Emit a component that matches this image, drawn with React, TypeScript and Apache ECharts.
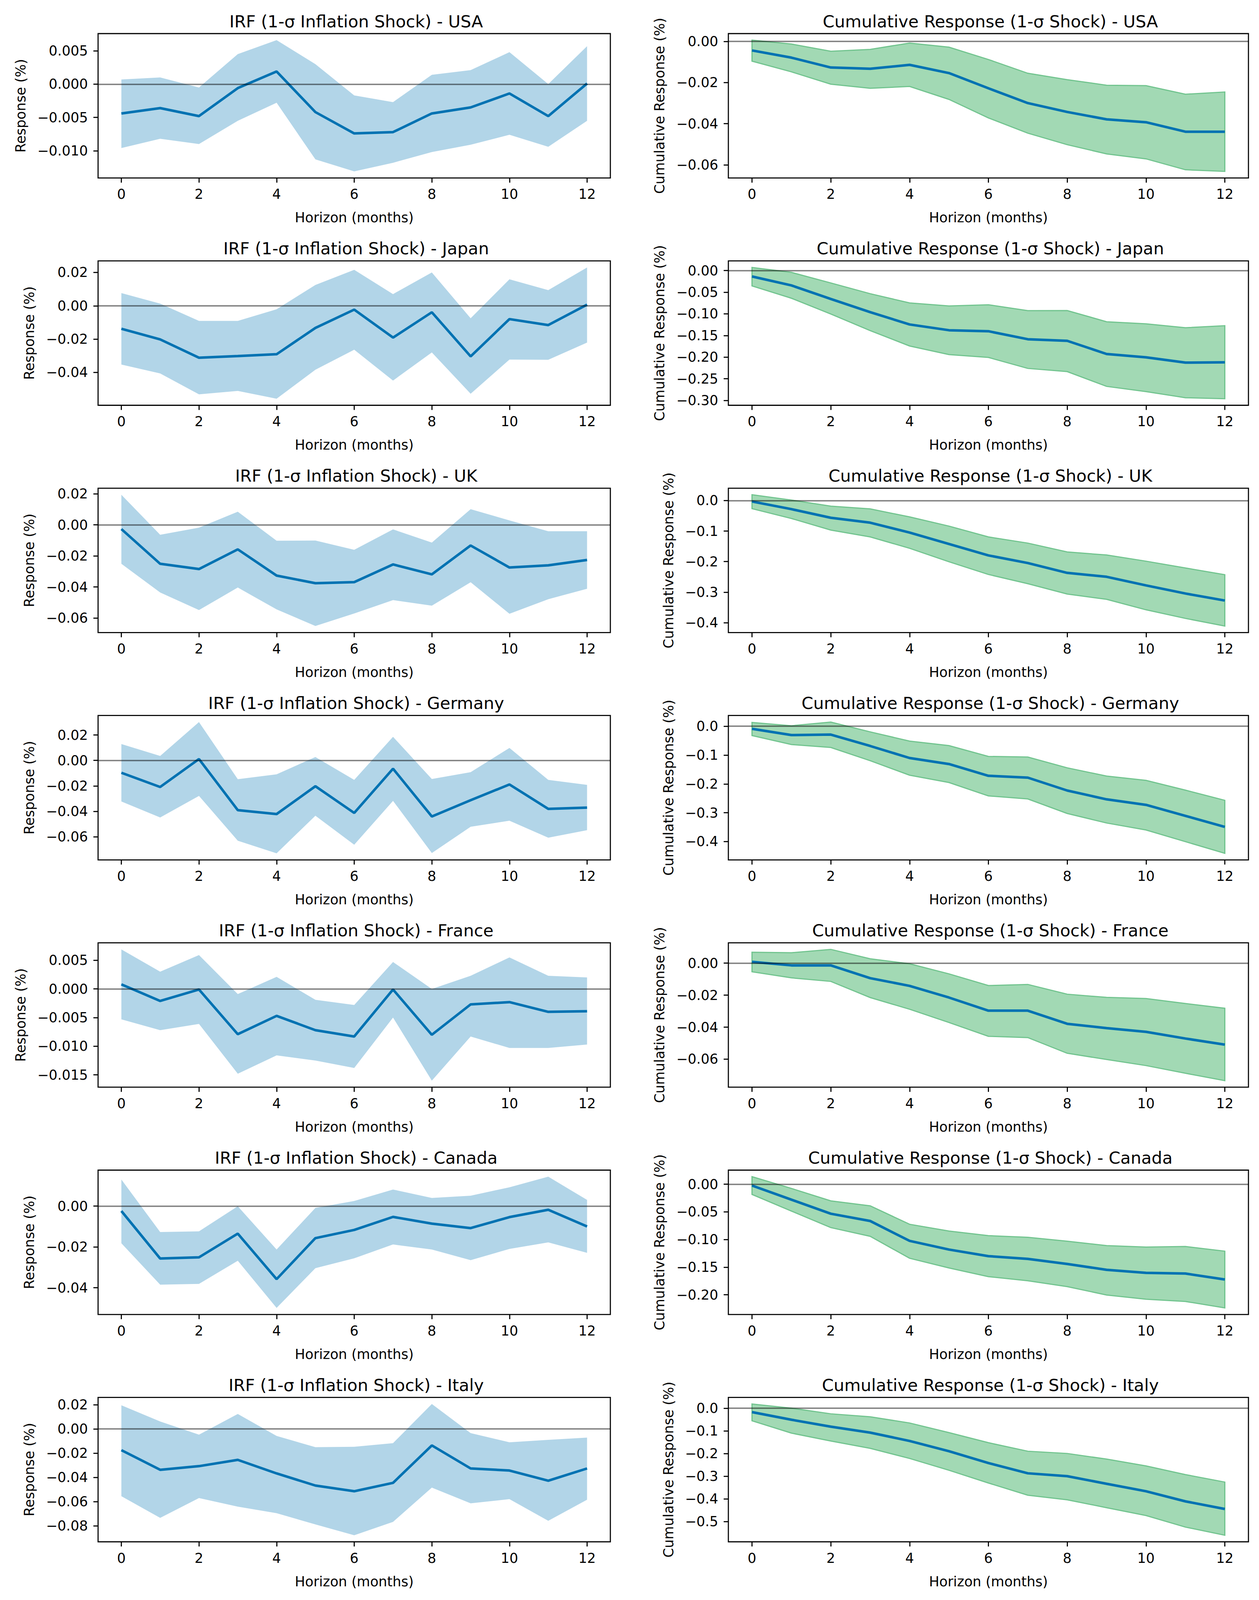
import React, { useEffect, useRef } from 'react';
import * as echarts from 'echarts';

// horizons and ticks
const horizons = [0, 1, 2, 3, 4, 5, 6, 7, 8, 9, 10, 11, 12];
const xTicks = [0, 2, 4, 6, 8, 10, 12];
const countries = ['USA', 'Japan', 'UK', 'Germany', 'France', 'Canada', 'Italy'];

// --- IRF (1-sigma inflation shock) ---
const usaIrf = [-0.0044, -0.0036, -0.0048, -0.0006, 0.0019, -0.0042, -0.0074, -0.0072, -0.0044, -0.0035, -0.0014, -0.0048, 0.0001];
const usaIrfLo = [-0.0096, -0.0082, -0.009, -0.0055, -0.0028, -0.0113, -0.0131, -0.0118, -0.0102, -0.0091, -0.0076, -0.0094, -0.0055];
const usaIrfHi = [0.0007, 0.001, -0.0005, 0.0045, 0.0066, 0.003, -0.0017, -0.0027, 0.0014, 0.0021, 0.0048, 0.0, 0.0057];

const japanIrf = [-0.0138, -0.0202, -0.0312, -0.0302, -0.0291, -0.0133, -0.0023, -0.0191, -0.0039, -0.0304, -0.008, -0.0116, 0.0007];
const japanIrfLo = [-0.0353, -0.0406, -0.0532, -0.0511, -0.0558, -0.0384, -0.0264, -0.0449, -0.028, -0.0528, -0.0323, -0.0324, -0.0221];
const japanIrfHi = [0.0076, 0.0013, -0.0091, -0.0091, -0.0021, 0.0125, 0.0216, 0.007, 0.02, -0.0075, 0.0159, 0.0094, 0.023];

const ukIrf = [-0.0027, -0.0251, -0.0285, -0.0158, -0.0327, -0.0376, -0.0369, -0.0255, -0.0319, -0.0133, -0.0275, -0.0261, -0.0226];
const ukIrfLo = [-0.0251, -0.0436, -0.0549, -0.0404, -0.0545, -0.0652, -0.0571, -0.0485, -0.0521, -0.037, -0.0573, -0.0479, -0.0412];
const ukIrfHi = [0.0194, -0.0064, -0.0018, 0.0085, -0.0102, -0.0101, -0.0161, -0.0029, -0.0114, 0.0101, 0.0029, -0.0041, -0.0041];

const germanyIrf = [-0.0097, -0.0209, 0.0011, -0.0391, -0.0422, -0.0203, -0.0413, -0.0065, -0.0441, -0.0313, -0.0189, -0.0381, -0.0371];
const germanyIrfLo = [-0.0323, -0.0449, -0.0279, -0.0632, -0.0731, -0.0435, -0.0663, -0.0318, -0.0729, -0.0522, -0.0474, -0.0608, -0.0549];
const germanyIrfHi = [0.0129, 0.0035, 0.0302, -0.0148, -0.0109, 0.0027, -0.0153, 0.0186, -0.0146, -0.0092, 0.0098, -0.0153, -0.0192];

const franceIrf = [0.0008, -0.0021, -0.0001, -0.0079, -0.0047, -0.0072, -0.0083, -0.0001, -0.008, -0.0027, -0.0023, -0.004, -0.0039];
const franceIrfLo = [-0.0053, -0.0072, -0.0061, -0.0148, -0.0116, -0.0125, -0.0138, -0.005, -0.016, -0.0083, -0.0103, -0.0103, -0.0097];
const franceIrfHi = [0.0069, 0.003, 0.0059, -0.0009, 0.0021, -0.0019, -0.0028, 0.0047, 0.0, 0.0023, 0.0055, 0.0023, 0.002];

const canadaIrf = [-0.0024, -0.0257, -0.0251, -0.0135, -0.0358, -0.0157, -0.0117, -0.0053, -0.0086, -0.0108, -0.0054, -0.0018, -0.01];
const canadaIrfLo = [-0.0182, -0.0385, -0.0381, -0.0268, -0.0499, -0.0304, -0.0256, -0.0188, -0.0213, -0.0265, -0.021, -0.0178, -0.0229];
const canadaIrfHi = [0.013, -0.0127, -0.0124, -0.0001, -0.0213, -0.0009, 0.0025, 0.0081, 0.004, 0.0051, 0.0092, 0.0144, 0.003];

const italyIrf = [-0.0175, -0.0337, -0.0307, -0.0255, -0.0367, -0.0467, -0.0514, -0.0445, -0.0136, -0.0326, -0.0343, -0.0427, -0.0326];
const italyIrfLo = [-0.0555, -0.0734, -0.057, -0.0641, -0.0695, -0.0788, -0.0877, -0.0767, -0.0484, -0.0614, -0.0579, -0.0758, -0.0584];
const italyIrfHi = [0.0195, 0.0062, -0.0047, 0.0124, -0.0058, -0.015, -0.0147, -0.0117, 0.0206, -0.0034, -0.011, -0.009, -0.0071];

// --- cumulative response ---
const usaCum = [-0.0044, -0.0079, -0.0127, -0.0133, -0.0114, -0.0154, -0.0228, -0.03, -0.0343, -0.0379, -0.0393, -0.0439, -0.0439];
const usaCumLo = [-0.0096, -0.0148, -0.0208, -0.0228, -0.0219, -0.0282, -0.0372, -0.0446, -0.0502, -0.0547, -0.0571, -0.0624, -0.0632];
const usaCumHi = [0.0006, -0.0013, -0.0048, -0.0039, -0.0008, -0.0028, -0.0088, -0.0155, -0.0186, -0.0213, -0.0215, -0.0257, -0.0246];

const japanCum = [-0.0137, -0.0344, -0.0657, -0.0961, -0.1246, -0.1379, -0.1402, -0.1587, -0.1624, -0.1928, -0.2005, -0.2127, -0.2119];
const japanCumLo = [-0.0356, -0.064, -0.1004, -0.1388, -0.1743, -0.1942, -0.2008, -0.2261, -0.2335, -0.2676, -0.2796, -0.2938, -0.2961];
const japanCumHi = [0.0071, -0.0043, -0.0287, -0.0535, -0.0748, -0.0819, -0.0791, -0.0927, -0.0924, -0.1183, -0.1231, -0.1322, -0.1274];

const ukCum = [-0.0032, -0.0282, -0.0564, -0.0725, -0.1048, -0.1422, -0.1797, -0.2046, -0.2369, -0.2497, -0.2779, -0.3045, -0.3275];
const ukCumLo = [-0.0266, -0.0588, -0.0967, -0.1192, -0.1563, -0.2006, -0.2421, -0.2724, -0.3062, -0.3235, -0.3578, -0.386, -0.4109];
const ukCumHi = [0.0189, 0.0016, -0.0185, -0.0274, -0.0536, -0.0838, -0.1192, -0.1394, -0.1684, -0.1784, -0.1986, -0.2208, -0.2429];

const germanyCum = [-0.0089, -0.0306, -0.0289, -0.0685, -0.1102, -0.1311, -0.1719, -0.1783, -0.223, -0.2536, -0.2728, -0.311, -0.3494];
const germanyCumLo = [-0.0323, -0.0634, -0.0736, -0.1196, -0.1698, -0.1953, -0.2417, -0.2523, -0.3026, -0.3357, -0.36, -0.4004, -0.4409];
const germanyCumHi = [0.0132, 0.0017, 0.0145, -0.0196, -0.0515, -0.0672, -0.1047, -0.1068, -0.1443, -0.1728, -0.1877, -0.2217, -0.257];

const franceCum = [0.0008, -0.0014, -0.0014, -0.0094, -0.0142, -0.0215, -0.0297, -0.0297, -0.0379, -0.0406, -0.0429, -0.0471, -0.0509];
const franceCumLo = [-0.0054, -0.0092, -0.0114, -0.0215, -0.0288, -0.0371, -0.0457, -0.0465, -0.0563, -0.0602, -0.064, -0.0688, -0.0734];
const franceCumHi = [0.0068, 0.0065, 0.0086, 0.0027, -0.0004, -0.0067, -0.014, -0.0133, -0.0194, -0.0214, -0.0221, -0.0252, -0.0282];

const canadaCum = [-0.0023, -0.0279, -0.0533, -0.0665, -0.1025, -0.1182, -0.1301, -0.1351, -0.1443, -0.1548, -0.1604, -0.1616, -0.1724];
const canadaCumLo = [-0.0184, -0.0485, -0.0784, -0.0942, -0.1339, -0.1515, -0.1672, -0.1746, -0.1852, -0.2004, -0.2081, -0.2121, -0.2238];
const canadaCumHi = [0.0137, -0.0076, -0.0301, -0.0391, -0.0724, -0.0847, -0.093, -0.096, -0.1031, -0.111, -0.1137, -0.1126, -0.1211];

const italyCum = [-0.0174, -0.051, -0.0817, -0.1078, -0.1448, -0.19, -0.2422, -0.2874, -0.3001, -0.3337, -0.3667, -0.4113, -0.445];
const italyCumLo = [-0.0556, -0.1101, -0.1448, -0.1773, -0.2219, -0.274, -0.3302, -0.3841, -0.4044, -0.4392, -0.4739, -0.5249, -0.5608];
const italyCumHi = [0.0185, 0.0, -0.0249, -0.0382, -0.0654, -0.1078, -0.1524, -0.19, -0.1999, -0.2248, -0.2549, -0.2932, -0.3262];

// y tick values (and decimals shown)
const usaIrfTicks = [-0.01, -0.005, 0, 0.005];
const japanIrfTicks = [-0.04, -0.02, 0, 0.02];
const ukIrfTicks = [-0.06, -0.04, -0.02, 0, 0.02];
const germanyIrfTicks = [-0.06, -0.04, -0.02, 0, 0.02];
const franceIrfTicks = [-0.015, -0.01, -0.005, 0, 0.005];
const canadaIrfTicks = [-0.04, -0.02, 0];
const italyIrfTicks = [-0.08, -0.06, -0.04, -0.02, 0, 0.02];
const irfDecimals = [3, 2, 2, 2, 3, 2, 2];

const usaCumTicks = [-0.06, -0.04, -0.02, 0];
const japanCumTicks = [-0.3, -0.25, -0.2, -0.15, -0.1, -0.05, 0];
const ukCumTicks = [-0.4, -0.3, -0.2, -0.1, 0];
const germanyCumTicks = [-0.4, -0.3, -0.2, -0.1, 0];
const franceCumTicks = [-0.06, -0.04, -0.02, 0];
const canadaCumTicks = [-0.2, -0.15, -0.1, -0.05, 0];
const italyCumTicks = [-0.5, -0.4, -0.3, -0.2, -0.1, 0];
const cumDecimals = [2, 2, 1, 1, 2, 2, 1];

const irfData = [
  [usaIrf, usaIrfLo, usaIrfHi, usaIrfTicks],
  [japanIrf, japanIrfLo, japanIrfHi, japanIrfTicks],
  [ukIrf, ukIrfLo, ukIrfHi, ukIrfTicks],
  [germanyIrf, germanyIrfLo, germanyIrfHi, germanyIrfTicks],
  [franceIrf, franceIrfLo, franceIrfHi, franceIrfTicks],
  [canadaIrf, canadaIrfLo, canadaIrfHi, canadaIrfTicks],
  [italyIrf, italyIrfLo, italyIrfHi, italyIrfTicks],
];
const cumData = [
  [usaCum, usaCumLo, usaCumHi, usaCumTicks],
  [japanCum, japanCumLo, japanCumHi, japanCumTicks],
  [ukCum, ukCumLo, ukCumHi, ukCumTicks],
  [germanyCum, germanyCumLo, germanyCumHi, germanyCumTicks],
  [franceCum, franceCumLo, franceCumHi, franceCumTicks],
  [canadaCum, canadaCumLo, canadaCumHi, canadaCumTicks],
  [italyCum, italyCumLo, italyCumHi, italyCumTicks],
];

const FONT = 'DejaVu Sans';
const W = 3222;
const H = 5604;
const TOP0 = 86; // first axes top (room for the title)
const ROW_GAP = 212.3; // axes bottom -> next axes top
const BOTTOM = 149; // below the last axes
const COLS = [
  { left: 251, width: 1311 },
  { left: 1864, width: 1331 },
];

// the photographed window can be shorter than the figure: fit the rows into it
const pageHeight = () => {
  const ih = typeof window !== 'undefined' ? window.innerHeight : H;
  return ih >= 3000 && ih < H ? ih : H;
};

const fmt = (v: number, dec: number) => v.toFixed(dec).replace('-', '\u2212');

let measureCtx: CanvasRenderingContext2D | null = null;
const textWidth = (s: string) => {
  if (!measureCtx) measureCtx = document.createElement('canvas').getContext('2d');
  if (!measureCtx) return s.length * 22;
  measureCtx.font = `35px "${FONT}"`;
  return measureCtx.measureText(s).width;
};

function buildOption(height: number) {
  const grid: any[] = [];
  const xAxis: any[] = [];
  const yAxis: any[] = [];
  const series: any[] = [];
  const title: any[] = [];

  const nRows = countries.length;
  const plotH = (height - TOP0 - BOTTOM - ROW_GAP * (nRows - 1)) / nRows;
  const rowStep = plotH + ROW_GAP;

  const panels: any[] = [];
  countries.forEach((c, r) => {
    panels.push({ r, col: 0, name: `IRF (1-σ Inflation Shock) - ${c}`, ylabel: 'Response (%)', d: irfData[r], dec: irfDecimals[r], kind: 'irf' });
    panels.push({ r, col: 1, name: `Cumulative Response (1-σ Shock) - ${c}`, ylabel: 'Cumulative Response (%)', d: cumData[r], dec: cumDecimals[r], kind: 'cum' });
  });

  panels.forEach((p, k) => {
    const [mean, lo, hi, ticks] = p.d as number[][];
    const col = COLS[p.col];
    const top = TOP0 + rowStep * p.r;

    const dmin = Math.min(...lo);
    const dmax = Math.max(...hi);
    const pad = (dmax - dmin) * 0.05;

    const labelW = Math.max(...ticks.map((t) => textWidth(fmt(t, p.dec))));

    grid.push({
      left: col.left,
      top,
      width: col.width,
      height: plotH,
      show: true,
      borderColor: '#000',
      borderWidth: 2.8,
      backgroundColor: 'transparent',
      outerBoundsMode: 'none',
    });

    title.push({
      text: p.name,
      left: col.left + col.width / 2,
      top: top - 58,
      textAlign: 'center',
      textStyle: { fontFamily: FONT, fontSize: 43, fontWeight: 'normal', color: '#000', lineHeight: 43 },
    });

    xAxis.push({
      type: 'value',
      gridIndex: k,
      min: -0.6,
      max: 12.6,
      axisLine: { show: false, onZero: false },
      axisTick: { show: true, customValues: xTicks, length: 12, lineStyle: { color: '#000', width: 2.8 } },
      axisLabel: { customValues: xTicks, margin: 24, fontSize: 35, fontFamily: FONT, color: '#000' },
      splitLine: { show: false },
      name: 'Horizon (months)',
      nameLocation: 'middle',
      nameGap: 84,
      nameTextStyle: { fontFamily: FONT, fontSize: 35, color: '#000' },
    });

    yAxis.push({
      type: 'value',
      gridIndex: k,
      min: dmin - pad,
      max: dmax + pad,
      axisLine: { show: false, onZero: false },
      axisTick: { show: true, customValues: ticks, length: 12, lineStyle: { color: '#000', width: 2.8 } },
      axisLabel: {
        customValues: ticks,
        margin: 26,
        fontSize: 35,
        fontFamily: FONT,
        color: '#000',
        formatter: (v: number) => fmt(v, p.dec),
      },
      splitLine: { show: false },
      name: p.ylabel,
      nameLocation: 'middle',
      nameRotate: 90,
      nameGap: 28 + labelW + 23,
      nameTextStyle: { fontFamily: FONT, fontSize: 35, color: '#000' },
    });

    const isCum = p.kind === 'cum';
    // confidence band
    series.push({
      type: 'custom',
      xAxisIndex: k,
      yAxisIndex: k,
      silent: true,
      z: 1,
      data: [[0, 0]],
      renderItem: (_params: any, api: any) => {
        const pts: number[][] = horizons.map((h, i) => api.coord([h, hi[i]]));
        for (let i = horizons.length - 1; i >= 0; i--) pts.push(api.coord([horizons[i], lo[i]]));
        return {
          type: 'polygon',
          shape: { points: pts },
          style: isCum
            ? { fill: '#a2d9b4', stroke: '#72c48f', lineWidth: 3 }
            : { fill: '#b2d5e8' },
        };
      },
    });

    // point estimate + zero line
    series.push({
      type: 'line',
      xAxisIndex: k,
      yAxisIndex: k,
      silent: true,
      z: 3,
      symbol: 'none',
      showSymbol: false,
      data: horizons.map((h, i) => [h, mean[i]]),
      lineStyle: { color: '#0072b2', width: 6.5 },
      markLine: {
        silent: true,
        symbol: ['none', 'none'],
        label: { show: false },
        lineStyle: { color: 'rgba(0,0,0,0.5)', width: 3.5, type: 'solid' },
        data: [{ yAxis: 0 }],
      },
    });
  });

  return {
    animation: false,
    backgroundColor: '#fff',
    title,
    grid,
    xAxis,
    yAxis,
    series,
  };
}

const App: React.FC = () => {
  const chartRef = useRef<HTMLDivElement | null>(null);
  const height = pageHeight();

  useEffect(() => {
    document.body.style.margin = '0';
    if (!chartRef.current) return;
    const chart = echarts.init(chartRef.current, null, { renderer: 'svg' });
    chart.setOption(buildOption(height));
    return () => chart.dispose();
  }, [height]);

  return <div ref={chartRef} style={{ width: W, height }} />;
};

export default App;
